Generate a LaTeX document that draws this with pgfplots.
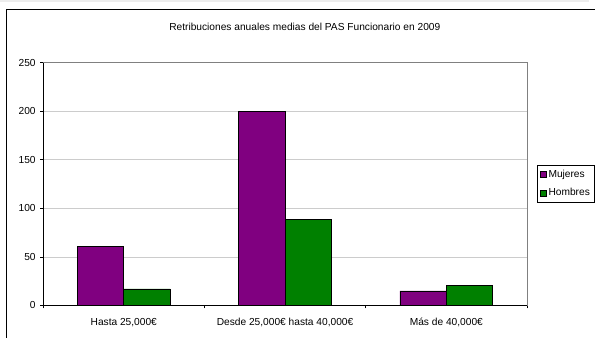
\documentclass[border=0pt]{standalone}
\usepackage{pgfplots}
\pgfplotsset{compat=1.18}
\usepackage{fontspec}
\setmainfont{Liberation Sans}
\definecolor{muj}{HTML}{800080}
\definecolor{hom}{HTML}{008000}
\begin{document}
\begin{tikzpicture}[font=\fontsize{10.2bp}{12bp}\selectfont]
\draw[white] (0bp,0bp) rectangle (596bp,338bp);
\fill[black!7] (0bp,336.5bp) rectangle (590bp,338bp);
\draw[black, line width=1.2bp] (6.5bp,0bp) -- (6.5bp,328.5bp) -- (596bp,328.5bp);
\node at (305bp,311bp) {Retribuciones anuales medias del PAS Funcionario en 2009};
\begin{axis}[
  at={(43bp,32.3bp)}, anchor=south west,
  scale only axis, width=484.5bp, height=243bp,
  xmin=-0.5, xmax=2.5, ymin=0, ymax=250,
  ytick={0,50,100,150,200,250},
  xtick={0,1,2},
  xticklabels={Hasta 25{,}000€, Desde 25{,}000€ hasta 40{,}000€, Más de 40{,}000€},
  minor xtick={-0.5,0.5,1.5,2.5},
  major x tick style={draw=none},
  tick align=outside,
  major tick length=3bp, minor tick length=3bp,
  tick style={black, line width=0.8bp},
  xtick pos=bottom, ytick pos=left,
  ymajorgrids, grid style={draw=black!20, line width=0.8bp},
  axis line style={draw=black!50, line width=0.8bp},
  /pgf/number format/assume math mode=true,
  ticklabel style={font=\fontsize{10.2bp}{12bp}\selectfont},
  xticklabel style={yshift=-6bp},
  yticklabel style={xshift=-1bp},
  ybar=0pt, bar width=46.5bp,
  legend style={at={(axis description cs:1.021,0.579)}, anchor=north west,
    draw=black, line width=0.6bp, inner sep=2.5bp, row sep=6bp,
    font=\fontsize{10.2bp}{12bp}\selectfont},
  legend cell align=left,
  legend image code/.code={\draw[#1, line width=0.6bp] (0bp,-3bp) rectangle (6bp,3bp);},
]
\addplot[fill=muj, draw=black, line width=0.7bp] coordinates {(0,61) (1,200) (2,15)};
\addplot[fill=hom, draw=black, line width=0.7bp] coordinates {(0,17) (1,89) (2,21)};
\legend{Mujeres, Hombres}
\draw[black, line width=1bp] (rel axis cs:0,1) -- (rel axis cs:0,0) -- (rel axis cs:1,0);
\end{axis}
\end{tikzpicture}
\end{document}
